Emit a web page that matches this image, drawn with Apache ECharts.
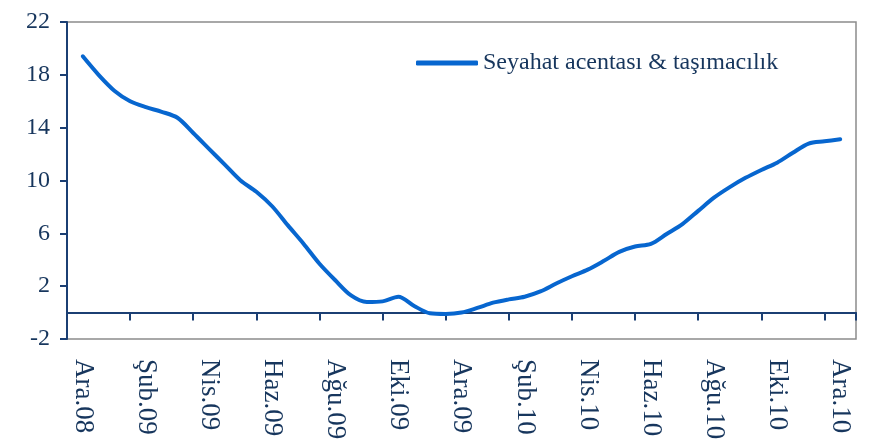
<!DOCTYPE html>
<html>
<head>
<meta charset="utf-8">
<script src="https://cdn.jsdelivr.net/npm/echarts@6/dist/echarts.min.js"></script>
<style>
  html, body { margin: 0; padding: 0; background: #fff; }
  #chart { width: 871px; height: 446px; }
</style>
</head>
<body>
<div id="chart"></div>
<script>
// aylık kategoriler (her 2 ayda bir etiket)
const months = [
  'Ara.08', 'Oca.09', 'Şub.09', 'Mar.09', 'Nis.09', 'May.09', 'Haz.09', 'Tem.09',
  'Ağu.09', 'Eyl.09', 'Eki.09', 'Kas.09', 'Ara.09', 'Oca.10', 'Şub.10', 'Mar.10',
  'Nis.10', 'May.10', 'Haz.10', 'Tem.10', 'Ağu.10', 'Eyl.10', 'Eki.10', 'Kas.10', 'Ara.10'
]

// yarım aylık gözlemler (Ara.08 -> Ara.10)
const seyahat = [
  19.4, 18.0, 16.8, 16.0, 15.55, 15.2, 14.75, 13.6, 12.4, 11.2,
  10.0, 9.15, 8.05, 6.6, 5.2, 3.7, 2.45, 1.3, 0.8, 0.85,
  1.2, 0.5, -0.05, -0.1, 0.0, 0.35, 0.75, 1.0, 1.2, 1.6,
  2.2, 2.75, 3.25, 3.9, 4.6, 5.0, 5.2, 5.95, 6.7, 7.7,
  8.7, 9.5, 10.2, 10.8, 11.35, 12.1, 12.8, 12.97, 13.12
]

const navy = '#17365d'
const font = 'Liberation Serif, Times New Roman, serif'

const chart = echarts.init(document.getElementById('chart'))

chart.setOption({
  animation: false,
  grid: {
    left: 67, right: 15, top: 22, bottom: 107,
    show: true,
    borderColor: '#8c8c8c',
    borderWidth: 1.5,
    containLabel: false
  },
  legend: {
    left: 411,
    top: 46,
    icon: 'roundRect',
    itemWidth: 62,
    itemHeight: 5,
    textStyle: { color: navy, fontSize: 24, fontFamily: font },
    data: ['Seyahat acentası & taşımacılık']
  },
  xAxis: [
    {
      // sıfır çizgisi ve tik işaretleri
      type: 'category',
      data: months,
      boundaryGap: true,
      axisLine: { onZero: true, lineStyle: { color: '#1b3f73', width: 2 } },
      axisTick: { show: true, interval: 1, length: 8, lineStyle: { color: '#1b3f73', width: 2 } },
      axisLabel: { show: false },
      splitLine: { show: false }
    },
    {
      // alt etiketler
      type: 'category',
      data: months,
      position: 'bottom',
      boundaryGap: true,
      axisLine: { show: false, onZero: false },
      axisTick: { show: false },
      axisLabel: {
        interval: 1,
        rotate: -90,
        margin: 20,
        color: navy,
        fontSize: 27,
        fontFamily: font
      },
      splitLine: { show: false }
    },
    {
      type: 'value',
      min: -0.5,
      max: 24.5,
      show: false
    }
  ],
  yAxis: {
    type: 'value',
    min: -2,
    max: 22,
    interval: 4,
    axisLine: { show: true, onZero: false, lineStyle: { color: '#1b3f73', width: 2 } },
    axisTick: { show: true, length: 7, lineStyle: { color: '#1b3f73', width: 2 } },
    axisLabel: { color: navy, fontSize: 24, fontFamily: font, margin: 17 },
    splitLine: { show: false }
  },
  series: [
    {
      name: 'Seyahat acentası & taşımacılık',
      type: 'line',
      xAxisIndex: 2,
      data: seyahat.map((v, i) => [i / 2, v]),
      smooth: 0.3,
      symbol: 'none',
      lineStyle: { color: '#0766cf', width: 4, cap: 'round' },
      itemStyle: { color: '#0766cf' }
    }
  ]
})
</script>
</body>
</html>
